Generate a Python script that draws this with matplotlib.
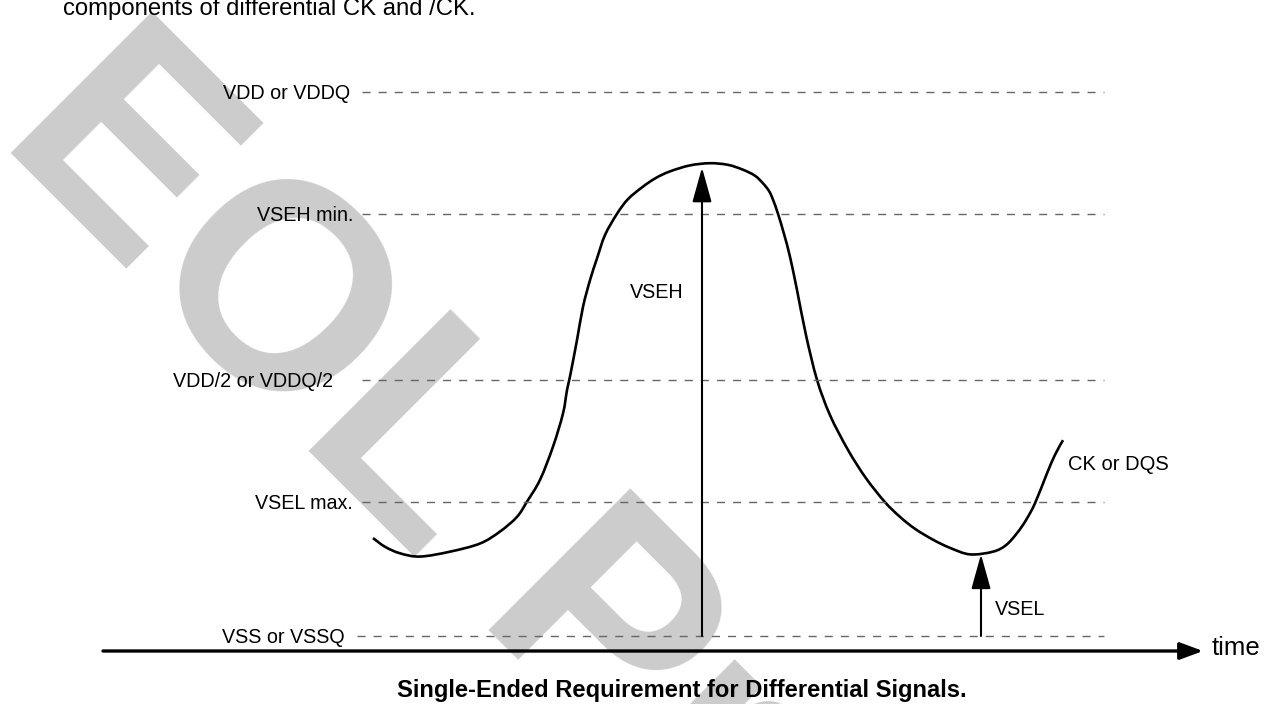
import matplotlib
matplotlib.use("Agg")
import matplotlib.pyplot as plt
from matplotlib.path import Path
from matplotlib.patches import PathPatch
import numpy as np

plt.rcParams['font.family'] = ['Liberation Sans', 'DejaVu Sans']
plt.rcParams['lines.scale_dashes'] = False

W, H = 1271, 704

# ---------------- data ----------------
level_names = ["VDD or VDDQ", "VSEH min.", "VDD/2 or VDDQ/2", "VSEL max.", "VSS or VSSQ"]
level_values = [1.0, 0.776, 0.471, 0.246, 0.0]
level_label_x = [350, 353, 333, 353, 345]
level_line_start = [362, 362, 362, 362, 357]

wave_t = [373, 385, 400, 420, 450, 480, 500, 517, 527, 540, 553, 563, 567, 570, 577, 583, 590,
          597, 605, 617, 628, 643, 656, 670, 690, 710, 728, 743, 755, 763, 769, 773, 778, 784,
          790, 797, 806, 817, 830, 848, 866, 885, 900, 915, 933, 950, 970, 993, 1006, 1017,
          1026, 1035, 1047, 1055, 1063]
wave_v = [0.180, 0.164, 0.152, 0.146, 0.155, 0.170, 0.192, 0.219, 0.247, 0.287, 0.348, 0.409,
          0.452, 0.477, 0.544, 0.605, 0.654, 0.694, 0.737, 0.776, 0.803, 0.826, 0.842, 0.854,
          0.865, 0.869, 0.866, 0.857, 0.846, 0.832, 0.818, 0.802, 0.776, 0.739, 0.697, 0.636,
          0.553, 0.471, 0.406, 0.342, 0.290, 0.246, 0.219, 0.197, 0.177, 0.162, 0.150, 0.155,
          0.167, 0.189, 0.213, 0.244, 0.299, 0.333, 0.360]

arrow_t = [702, 981]
arrow_tip = [0.861, 0.150]
arrow_labels = ["VSEH", "VSEL"]

# ---------------- figure ----------------
fig = plt.figure(figsize=(W / 100, H / 100), dpi=100)

# watermark layer (pixel coordinates)
wm = fig.add_axes([0, 0, 1, 1], zorder=0)
wm.set_xlim(0, W)
wm.set_ylim(H, 0)
wm.axis('off')
wm.text(-4, 139, "EOL Product", rotation=-45, rotation_mode='anchor', ha='left',
        va='baseline', fontsize=210, fontweight='bold', color='#cccccc')

ax = fig.add_axes([0, 0, 1, 1], zorder=1)
ax.patch.set_alpha(0)
ax.set_xlim(0, W)
ax.set_ylim(-0.125, 1.169)
ax.axis('off')

# dashed reference levels
for name, v, lx, x0 in zip(level_names, level_values, level_label_x, level_line_start):
    ax.plot([x0, 1104], [v, v], color='#666666', lw=1.0, dashes=(5.8, 5.8))
    ax.annotate(name, xy=(lx, v), xytext=(0, -5.2), textcoords='offset points',
                ha='right', va='baseline', fontsize=14.2, color='black')

# waveform drawn as a smooth Bezier path through the read points
pts = np.column_stack([wave_t, wave_v]).astype(float)
ext = np.vstack([pts[0], pts, pts[-1]])
verts = [tuple(pts[0])]
codes = [Path.MOVETO]
for i in range(1, len(ext) - 2):
    p0, p1, p2, p3 = ext[i - 1], ext[i], ext[i + 1], ext[i + 2]
    c1 = p1 + (p2 - p0) / 6.0
    c2 = p2 - (p3 - p1) / 6.0
    verts += [tuple(c1), tuple(c2), tuple(p2)]
    codes += [Path.CURVE4] * 3
ax.add_patch(PathPatch(Path(verts, codes), facecolor='none', edgecolor='black',
                       lw=1.9, capstyle='butt', joinstyle='round'))
ax.text(1068, 0.315, "CK or DQS", ha='left', va='center', fontsize=14.5)

# VSEH / VSEL arrows
for t, tip in zip(arrow_t, arrow_tip):
    ax.annotate('', xy=(t, tip), xytext=(t, 0.0),
                arrowprops=dict(arrowstyle='-|>,head_length=2.15,head_width=0.6',
                                mutation_scale=10, lw=1.5, color='black',
                                shrinkA=0, shrinkB=0))
ax.text(630, 0.6305, arrow_labels[0], ha='left', va='center', fontsize=14.2)
ax.text(995, 0.0496, arrow_labels[1], ha='left', va='center', fontsize=14.2)

# time axis
t_axis = -0.0276
ax.annotate('', xy=(1203, t_axis), xytext=(103, t_axis),
            arrowprops=dict(arrowstyle='-|>,head_length=1.4,head_width=0.52',
                            mutation_scale=10, lw=2.4, color='black',
                            shrinkA=0, shrinkB=0))
fig.text(1212 / W, 1 - 655 / H, "time", ha='left', va='baseline', fontsize=18.5)

# texts
fig.text(63 / W, 1 - 15.5 / H, "components of differential CK and /CK.", ha='left',
         va='baseline', fontsize=17.2)
fig.text(397 / W, 1 - 697 / H, "Single-Ended Requirement for Differential Signals.",
         ha='left', va='baseline', fontsize=17.1, fontweight='bold')

fig.savefig("out.png", dpi=100)
